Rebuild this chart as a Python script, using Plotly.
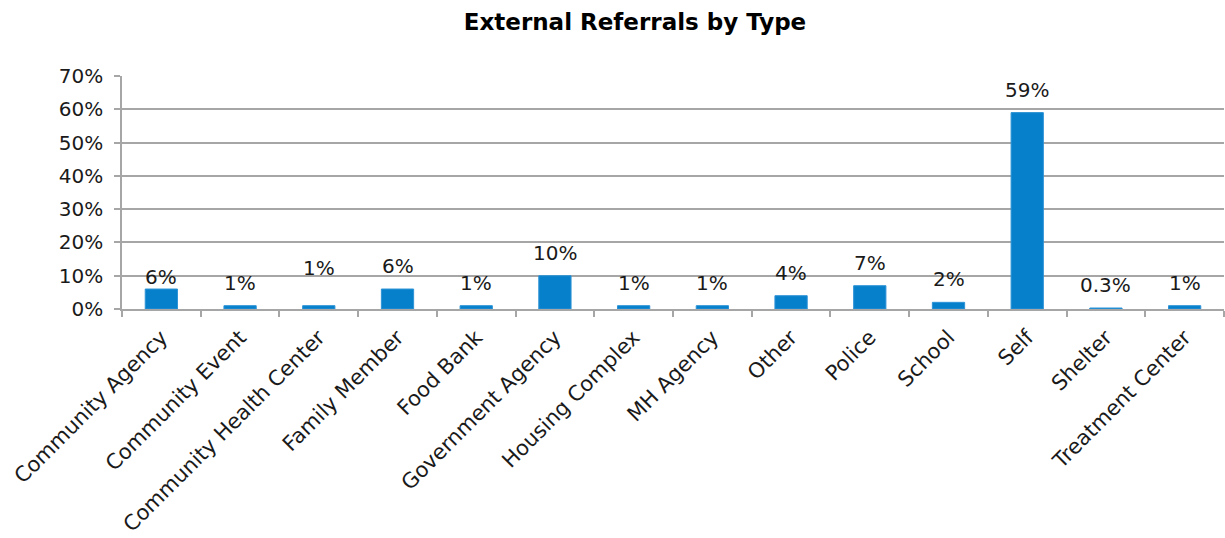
import plotly.graph_objects as go

# Referral sources and their share of all external referrals
categories = [
    "Community Agency", "Community Event", "Community Health Center",
    "Family Member", "Food Bank", "Government Agency", "Housing Complex",
    "MH Agency", "Other", "Police", "School", "Self", "Shelter",
    "Treatment Center",
]
shares = [0.06, 0.01, 0.01, 0.06, 0.01, 0.10, 0.01, 0.01, 0.04, 0.07,
          0.02, 0.59, 0.003, 0.01]

y_ticks = [0, 0.1, 0.2, 0.3, 0.4, 0.5, 0.6, 0.7]
y_tick_text = ["0%", "10%", "20%", "30%", "40%", "50%", "60%", "70%"]

FONT = "DejaVu Sans, Open Sans, sans-serif"
BAR_COLOR = "#0780CB"
GRID_COLOR = "#A6A6A6"
TEXT_COLOR = "#1a1a1a"

# Small manual nudges for a couple of data labels (pixels)
label_nudge = {"Community Agency": -11, "Community Health Center": 15}


def pct_label(v):
    return f"{round(v * 100, 1):g}%"


fig = go.Figure()
fig.add_trace(go.Bar(
    x=categories,
    y=shares,
    marker=dict(color=BAR_COLOR, line=dict(color="#2E93D6", width=1)),
    width=0.41,
    hoverinfo="x+y",
))

for cat, v in zip(categories, shares):
    fig.add_annotation(
        x=cat, y=v, xref="x", yref="y",
        text=pct_label(v), showarrow=False,
        yanchor="middle", yshift=23 + label_nudge.get(cat, 0),
        font=dict(family=FONT, size=20, color=TEXT_COLOR),
    )

fig.update_layout(
    width=1225, height=538,
    margin=dict(l=122, r=1, t=76, b=229),
    paper_bgcolor="white", plot_bgcolor="white",
    showlegend=False,
    title=dict(
        text="<b>External Referrals by Type</b>",
        x=635 / 1225, xanchor="center", xref="container",
        y=1 - 22 / 538, yanchor="middle", yref="container",
        font=dict(family=FONT, size=23, color="black"),
    ),
    bargap=0.59,
)

fig.update_xaxes(
    type="category",
    tickangle=-45,
    tickson="boundaries",
    ticks="outside", ticklen=6, tickcolor=GRID_COLOR, tickwidth=1.5,
    ticklabelstandoff=6,
    showline=True, linecolor=GRID_COLOR, linewidth=1.5,
    showgrid=False,
    tickfont=dict(family=FONT, size=21, color=TEXT_COLOR),
)
fig.update_yaxes(
    range=[0, 0.7],
    tickmode="array", tickvals=y_ticks, ticktext=y_tick_text,
    ticks="outside", ticklen=6, tickcolor=GRID_COLOR, tickwidth=1.5,
    ticklabelstandoff=7,
    showline=True, linecolor=GRID_COLOR, linewidth=1.5,
    showgrid=True, gridcolor=GRID_COLOR, gridwidth=1.5,
    zeroline=False,
    tickfont=dict(family=FONT, size=20, color=TEXT_COLOR),
)

fig.write_html("out.html")
